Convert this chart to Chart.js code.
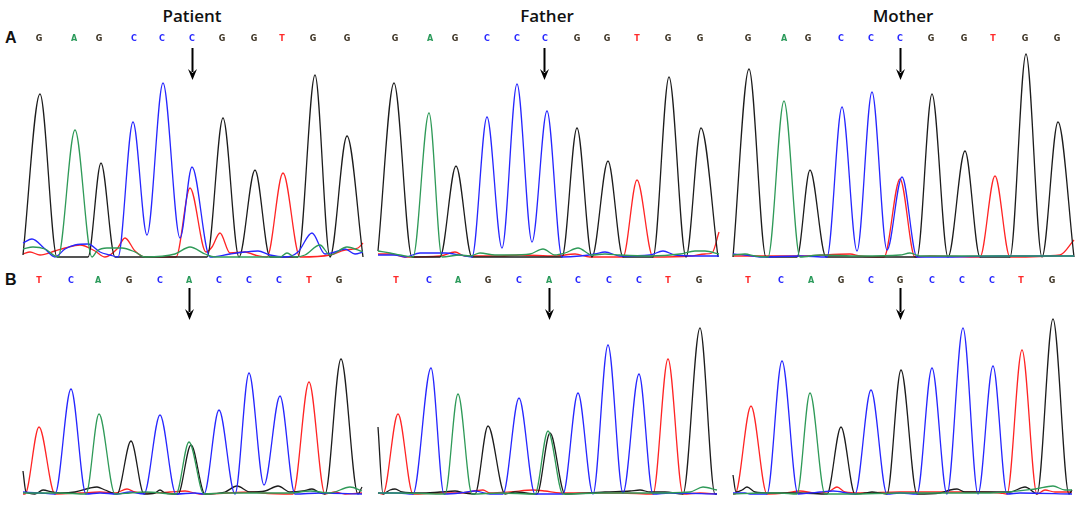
<!DOCTYPE html>
<html>
<head>
<meta charset="utf-8">
<script src="https://cdn.jsdelivr.net/npm/chart.js@4/dist/chart.umd.min.js"></script>
<style>
  html, body { margin: 0; padding: 0; background: #fff; }
  #page { position: relative; width: 1084px; height: 507px; overflow: hidden; }
  canvas { position: absolute; }
  .title { position: absolute; top: 4px; width: 120px; margin-left: -60px; text-align: center;
           font: 600 17px "Open Sans", sans-serif; color: #111; }
  .row { position: absolute; font: bold 16px "Liberation Sans", Arial, sans-serif; color: #111; }
</style>
</head>
<body>
<div id="page">
  <div class="title" style="left:192px">Patient</div>
  <div class="title" style="left:547px">Father</div>
  <div class="title" style="left:903px">Mother</div>
  <div class="row" style="left:5px;top:29px">A</div>
  <div class="row" style="left:5px;top:271px">B</div>
</div>
<script>
"use strict";

// ---- base calls and where they sit on the trace (scan position) ----
const callsA = "GAGCCCGGTGG";
const callsB_patient = "TCAGCACCCTG";
const callsB_father = "TCAGCACCCTG";
const callsB_mother = "TCAGCGCCCTG";

const posA_patient = [39, 74, 99, 134, 162, 192, 222, 254, 282, 313, 347];
const posA_father = [395, 430, 455, 487, 517, 545, 577, 607, 637, 668, 700];
const posA_mother = [748, 784, 808, 841, 871, 900, 931, 964, 993, 1025, 1057];
const posB_patient = [39, 71, 98, 129, 160, 189, 219, 249, 279, 309, 339];
const posB_father = [396, 429, 458, 488, 519, 549, 578, 609, 639, 668, 699];
const posB_mother = [748, 781, 811, 841, 871, 900, 932, 962, 992, 1021, 1052];

// variant position (arrow)
const arrowA = [192, 544, 900];
const arrowB = [189, 549, 900];

// ---- traces: [scan position, signal] ----
// A / Patient
const trA_patient_A = [[23,8],[33,10],[45,8],[58,0],[75,127],[92,0],[97,6],[107,9],[122,9],[135,5],[145,0],[175,3],[190,10],[205,3],[215,0],[280,0],[287,4],[295,0],[305,2],[320,12],[330,2],[347,10],[363,5]];
const trA_patient_C = [[23,14],[32,18],[45,8],[55,0],[65,8],[75,12],[88,13],[100,5],[110,2],[118,0],[133,135],[147,22],[163,174],[180,19],[192,90],[210,0],[230,3],[245,5],[258,6],[270,2],[285,0],[298,5],[312,24],[325,3],[335,5],[345,8],[355,3],[363,5]];
const trA_patient_G = [[23,2],[40,163],[57,0],[88,0],[101,94],[115,0],[207,0],[223,139],[239,0],[255,87],[270,0],[298,0],[315,182],[330,0],[347,121],[363,0]];
const trA_patient_T = [[23,3],[30,5],[40,2],[55,6],[65,9],[80,12],[95,6],[105,0],[117,8],[125,19],[135,6],[145,0],[176,0],[190,69],[206,5],[212,10],[220,24],[230,4],[245,5],[255,2],[267,0],[283,84],[300,0],[330,2],[345,7],[358,9],[363,14]];

// A / Father
const trA_father_A = [[378,6],[390,4],[400,2],[413,0],[429,144],[442,0],[460,2],[470,1],[480,4],[495,2],[510,2],[530,3],[543,8],[555,2],[565,4],[578,9],[592,2],[605,3],[620,2],[650,1],[680,3],[695,6],[705,6],[719,3]];
const trA_father_C = [[378,2],[395,2],[405,0],[420,4],[445,4],[460,2],[472,0],[487,140],[502,9],[517,173],[532,15],[547,146],[562,0],[580,1],[595,3],[605,5],[620,1],[650,2],[663,6],[675,2],[700,1],[719,1]];
const trA_father_G = [[378,6],[394,174],[412,0],[440,0],[456,91],[472,0],[562,0],[577,129],[592,0],[608,96],[623,0],[653,0],[669,180],[686,0],[701,129],[718,0]];
const trA_father_T = [[378,3],[390,3],[405,0],[440,1],[455,5],[465,1],[500,1],[520,2],[555,1],[575,3],[590,0],[623,0],[637,77],[653,0],[690,1],[705,3],[712,4],[719,25]];

// A / Mother
const trA_mother_A = [[733,2],[745,3],[755,1],[768,0],[784,156],[800,0],[820,2],[860,1],[900,2],[910,4],[920,1],[1074,1]];
const trA_mother_C = [[733,3],[745,2],[760,0],[800,1],[827,0],[842,150],[857,6],[872,165],[887,7],[902,80],[917,0],[940,0],[1000,1],[1074,1]];
const trA_mother_G = [[733,0],[749,188],[766,0],[797,0],[810,87],[826,0],[917,0],[932,163],[948,0],[965,106],[980,0],[1010,0],[1026,203],[1042,0],[1058,135],[1074,0]];
const trA_mother_T = [[733,1],[760,1],[800,1],[850,3],[860,1],[884,0],[900,78],[915,0],[930,1],[980,0],[995,81],[1010,0],[1060,2],[1074,17]];

// B / Patient
const trB_patient_A = [[23,1],[60,1],[86,0],[99,80],[115,0],[130,1],[145,2],[176,0],[189,52],[204,0],[225,1],[290,1],[310,3],[330,1],[350,7],[362,3]];
const trB_patient_C = [[23,2],[40,1],[55,0],[71,105],[86,0],[100,1],[117,0],[130,2],[144,0],[160,79],[176,0],[195,1],[204,0],[219,84],[235,0],[249,121],[264,9],[280,98],[295,0],[320,1],[362,0]];
const trB_patient_G = [[23,23],[26,2],[35,0],[43,4],[52,2],[60,1],[75,2],[90,6],[97,7],[105,4],[117,0],[131,53],[144,0],[155,1],[160,4],[165,1],[178,0],[191,49],[205,0],[225,2],[237,8],[250,2],[265,3],[278,8],[290,2],[303,3],[312,5],[320,1],[325,0],[341,135],[358,0],[362,7]];
const trB_patient_T = [[23,0],[25,0],[39,67],[55,0],[80,1],[100,2],[115,1],[127,5],[135,2],[150,1],[170,2],[185,3],[200,0],[255,2],[262,1],[293,0],[309,112],[325,0],[335,2],[345,0],[362,1]];

// B / Father
const trB_father_A = [[378,1],[400,1],[445,0],[458,100],[472,0],[500,1],[535,0],[548,63],[563,0],[600,1],[650,1],[690,2],[703,7],[717,4]];
const trB_father_C = [[378,1],[398,1],[413,0],[431,126],[444,0],[460,1],[475,3],[490,0],[503,0],[519,96],[535,0],[563,0],[578,101],[593,0],[608,149],[623,1],[639,120],[653,0],[670,1],[717,0]];
const trB_father_G = [[378,67],[383,0],[390,4],[395,5],[402,2],[420,1],[440,2],[455,3],[465,1],[475,0],[488,68],[505,0],[515,2],[537,0],[550,61],[565,0],[590,1],[605,2],[630,3],[640,4],[650,2],[665,2],[683,0],[700,166],[715,0],[717,0]];
const trB_father_T = [[378,1],[383,0],[398,80],[413,0],[440,1],[460,1],[483,4],[490,1],[510,2],[533,4],[545,3],[560,1],[590,1],[620,1],[653,0],[668,135],[683,0],[700,1],[717,0]];

// B / Mother
const trB_mother_A = [[733,0],[760,1],[780,1],[797,0],[810,101],[825,0],[850,0],[900,1],[990,1],[1035,5],[1053,8],[1065,4],[1072,4]];
const trB_mother_C = [[733,1],[745,1],[750,0],[767,0],[782,133],[798,0],[810,1],[820,2],[833,3],[855,0],[871,104],[887,0],[900,1],[917,0],[932,126],[947,0],[963,166],[978,0],[993,128],[1007,0],[1020,1],[1072,0]];
const trB_mother_G = [[733,19],[736,2],[742,4],[747,7],[755,2],[770,1],[800,1],[827,0],[841,67],[855,0],[865,1],[872,2],[880,1],[887,0],[901,124],[917,0],[940,1],[950,4],[957,5],[965,2],[990,2],[1010,2],[1025,7],[1035,1],[1037,0],[1053,175],[1069,0],[1072,4]];
const trB_mother_T = [[733,0],[735,0],[751,88],[767,0],[785,1],[800,3],[815,1],[830,3],[837,7],[845,2],[860,1],[900,2],[940,2],[960,2],[980,2],[1000,1],[1007,0],[1022,144],[1037,0],[1045,4],[1055,2],[1072,2]];

// ---- styles ----
const baseColors = { A: "#2f9a58", C: "#2626ff", G: "#1c1c1c", T: "#ff2424" };
const letterColors = { A: "#2a9a5a", C: "#2a2aff", G: "#3a3020", T: "#ff2a2a" };

const rows = {
  A: { top: 28, padTop: 19, yMax: 210, arrowTop: 20, arrowLen: 32 },
  B: { top: 270, padTop: 24, yMax: 200, arrowTop: 18, arrowLen: 32 }
};
const cols = [{ left: 20 }, { left: 375 }, { left: 730 }];
const colWidth = 346;

const callsPlugin = {
  id: "calls",
  afterDatasetsDraw(chart, args, opts) {
    const ctx = chart.ctx;
    const xs = chart.scales.x;
    ctx.save();
    ctx.font = "bold 8px 'DejaVu Sans', sans-serif";
    ctx.textAlign = "center";
    ctx.textBaseline = "middle";
    opts.calls.split("").forEach((b, i) => {
      ctx.fillStyle = letterColors[b];
      ctx.fillText(b, xs.getPixelForValue(opts.pos[i]), 11);
    });
    // arrow at the variant
    const ax = Math.round(xs.getPixelForValue(opts.arrow)) + 0.5;
    const y0 = opts.arrowTop, y1 = opts.arrowTop + opts.arrowLen;
    ctx.strokeStyle = "#000";
    ctx.fillStyle = "#000";
    ctx.lineWidth = 2;
    ctx.beginPath();
    ctx.moveTo(ax, y0);
    ctx.lineTo(ax, y1 - 8);
    ctx.stroke();
    ctx.beginPath();
    ctx.moveTo(ax - 4.5, y1 - 11);
    ctx.lineTo(ax, y1 - 7);
    ctx.lineTo(ax + 4.5, y1 - 11);
    ctx.lineTo(ax, y1);
    ctx.closePath();
    ctx.fill();
    ctx.restore();
  }
};

function makePanel(rowKey, colIdx, calls, pos, arrow, traces) {
  const row = rows[rowKey];
  const col = cols[colIdx];
  const canvas = document.createElement("canvas");
  const h = row.padTop + row.yMax + 4;
  canvas.width = colWidth;
  canvas.height = h;
  canvas.style.left = col.left + "px";
  canvas.style.top = row.top + "px";
  canvas.style.width = colWidth + "px";
  canvas.style.height = h + "px";
  document.getElementById("page").appendChild(canvas);

  const datasets = ["A", "C", "G", "T"].map(b => ({
    label: b,
    data: traces[b],
    borderColor: baseColors[b],
    borderWidth: 1.3,
    pointRadius: 0,
    fill: false,
    cubicInterpolationMode: "monotone",
    clip: false
  }));

  new Chart(canvas, {
    type: "line",
    data: { datasets },
    options: {
      responsive: false,
      animation: false,
      devicePixelRatio: 1,
      layout: { padding: { top: row.padTop, bottom: 4, left: 0, right: 0 } },
      scales: {
        x: { type: "linear", display: false, min: col.left, max: col.left + colWidth },
        y: { display: false, min: 0, max: row.yMax }
      },
      plugins: {
        legend: { display: false },
        tooltip: { enabled: false },
        calls: { calls, pos, arrow, arrowTop: row.arrowTop, arrowLen: row.arrowLen }
      }
    },
    plugins: [callsPlugin]
  });
}

makePanel("A", 0, callsA, posA_patient, arrowA[0], { A: trA_patient_A, C: trA_patient_C, G: trA_patient_G, T: trA_patient_T });
makePanel("A", 1, callsA, posA_father, arrowA[1], { A: trA_father_A, C: trA_father_C, G: trA_father_G, T: trA_father_T });
makePanel("A", 2, callsA, posA_mother, arrowA[2], { A: trA_mother_A, C: trA_mother_C, G: trA_mother_G, T: trA_mother_T });
makePanel("B", 0, callsB_patient, posB_patient, arrowB[0], { A: trB_patient_A, C: trB_patient_C, G: trB_patient_G, T: trB_patient_T });
makePanel("B", 1, callsB_father, posB_father, arrowB[1], { A: trB_father_A, C: trB_father_C, G: trB_father_G, T: trB_father_T });
makePanel("B", 2, callsB_mother, posB_mother, arrowB[2], { A: trB_mother_A, C: trB_mother_C, G: trB_mother_G, T: trB_mother_T });
</script>
</body>
</html>
